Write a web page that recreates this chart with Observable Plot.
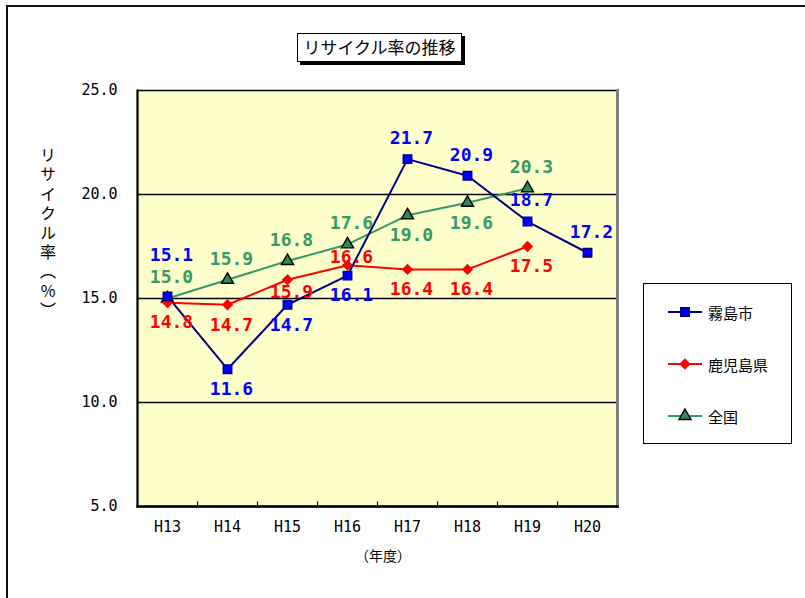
<!DOCTYPE html>
<html>
<head>
<meta charset="utf-8">
<script src="https://cdn.jsdelivr.net/npm/d3@7"></script>
<script src="https://cdn.jsdelivr.net/npm/@observablehq/plot@0.6"></script>
<style>
  body { margin: 0; background: #fff; }
  #wrap { position: relative; width: 805px; height: 598px; overflow: hidden; background: #fff;
          font-family: "Noto Sans CJK JP", sans-serif; color: #000; }
  #chart { position: absolute; left: 0; top: 0; }
  #outer { position: absolute; left: 6px; top: 5px; width: 900px; height: 700px;
           border: 2px solid #111; box-sizing: border-box; pointer-events: none; }
  #title { position: absolute; left: 297px; top: 33px; width: 165px; height: 29px;
           border: 1.5px solid #000; box-shadow: 3px 3px 0 #000; background: #fff;
           box-sizing: border-box; font-size: 17px; line-height: 26px; text-align: center; }
  #ylabel { position: absolute; left: 39px; top: 147px; font-size: 16px; letter-spacing: 3.4px;
            writing-mode: vertical-rl; text-orientation: upright; line-height: 18px; }
  #xlabel { position: absolute; left: 333px; width: 100px; top: 545px; font-size: 14px;
            text-align: center; }
  #legend { position: absolute; left: 643px; top: 283px; width: 149px; height: 161px;
            border: 1.5px solid #000; box-sizing: border-box; background: #fff; }
  .item { position: absolute; left: 24px; height: 20px; display: flex; align-items: center;
          font-size: 15px; }
  .item svg { margin-right: 6px; }
</style>
</head>
<body>
<div id="wrap">
  <div id="chart"></div>
  <div id="title">リサイクル率の推移</div>
  <div id="ylabel">リサイクル率（%）</div>
  <div id="xlabel">（年度）</div>
  <div id="legend"></div>
  <div id="outer"></div>
</div>
<script>
// ---- data ----
const years = ["H13", "H14", "H15", "H16", "H17", "H18", "H19", "H20"];
const seriesNames = ["霧島市", "鹿児島県", "全国"];
const kirishima = [15.1, 11.6, 14.7, 16.1, 21.7, 20.9, 18.7, 17.2];
const kagoshima = [14.8, 14.7, 15.9, 16.6, 16.4, 16.4, 17.5];
const zenkoku   = [15.0, 15.9, 16.8, 17.6, 19.0, 19.6, 20.3];
const yTicks = [5, 10, 15, 20, 25];
// label placement relative to the point
const kirishimaLabelPos = ["high", "below", "below", "below", "above", "above", "above", "above"];
const kagoshimaLabelPos = ["below", "below", "belowNear", "on", "below", "below", "below"];
const zenkokuLabelPos   = ["above", "above", "above", "above", "below", "below", "above"];

// ---- styles ----
const dyMap = { high: -41, above: -21, below: 20, belowNear: 12, on: -8 };
const styles = {
  "霧島市":   { line: "#000080", fill: "#0000ff", stroke: "#000080", symbol: "square",   r: 4.8, label: "#0000ff" },
  "鹿児島県": { line: "#ff0000", fill: "#ff0000", stroke: "#ff0000", symbol: "diamond2", r: 4.2, label: "#ff0000" },
  "全国":     { line: "#339966", fill: "#2e8b57", stroke: "#000000", symbol: "triangle", r: 4.5, label: "#339966" }
};

const toRows = (name, vals, pos) => vals.map((v, i) => ({ series: name, year: years[i], value: v, pos: pos[i] }));
const data = {
  "霧島市": toRows("霧島市", kirishima, kirishimaLabelPos),
  "鹿児島県": toRows("鹿児島県", kagoshima, kagoshimaLabelPos),
  "全国": toRows("全国", zenkoku, zenkokuLabelPos)
};

const labelFont = { fontFamily: "DejaVu Sans Mono", fontSize: 18, fontWeight: "bold" };
const axisFont = { fontFamily: "DejaVu Sans Mono", fontSize: 15 };

const marks = [
  Plot.frame({ fill: "#ffffcc" }),
  Plot.ruleY([10, 15, 20], { stroke: "#000", strokeWidth: 1.5 }),
  Plot.ruleX(years, { x: d => d, dx: 30, y1: 5, y2: 5.22, stroke: "#000", strokeWidth: 1.2 })
];
for (const name of ["全国", "鹿児島県", "霧島市"]) {
  const s = styles[name];
  marks.push(Plot.line(data[name], { x: "year", y: "value", stroke: s.line, strokeWidth: 2 }));
}
for (const name of ["全国", "鹿児島県", "霧島市"]) {
  const s = styles[name];
  marks.push(Plot.dot(data[name], { x: "year", y: "value", symbol: () => s.symbol, r: s.r,
    fill: s.fill, stroke: s.stroke, strokeWidth: 1.4 }));
}
for (const name of seriesNames) {
  const s = styles[name];
  for (const key of Object.keys(dyMap)) {
    const subset = data[name].filter(d => d.pos === key);
    if (!subset.length) continue;
    marks.push(Plot.text(subset, { x: "year", y: "value", text: d => d.value.toFixed(1),
      dx: 4, dy: dyMap[key], fill: s.label, ...labelFont }));
  }
}
marks.push(
  Plot.frame({ stroke: "#000", strokeWidth: 1.5 }),
  Plot.frame({ anchor: "right", stroke: "#808080", strokeWidth: 3 }),
  Plot.frame({ anchor: "left", stroke: "#000", strokeWidth: 2 }),
  Plot.frame({ anchor: "bottom", stroke: "#000", strokeWidth: 2.5 }),
  Plot.axisY({ ticks: yTicks, tickFormat: d => d.toFixed(1), tickSize: 0, tickPadding: 20,
    label: null, ...axisFont }),
  Plot.axisX({ tickSize: 0, tickPadding: 15, label: null, ...axisFont })
);

const chart = Plot.plot({
  width: 805,
  height: 598,
  marginLeft: 137,
  marginRight: 188,
  marginTop: 90,
  marginBottom: 92,
  x: { type: "point", domain: years, padding: 0.5 },
  y: { domain: [5, 25] },
  style: { background: "transparent", color: "#000" },
  marks
});
document.getElementById("chart").appendChild(chart);

// ---- legend ----
const legend = document.getElementById("legend");
const rowTops = [18, 70, 122];
seriesNames.forEach((name, i) => {
  const s = styles[name];
  const item = document.createElement("div");
  item.className = "item";
  item.style.top = rowTops[i] + "px";
  const svgNS = "http://www.w3.org/2000/svg";
  const svg = document.createElementNS(svgNS, "svg");
  svg.setAttribute("width", 34);
  svg.setAttribute("height", 20);
  const line = document.createElementNS(svgNS, "line");
  line.setAttribute("x1", 0); line.setAttribute("x2", 34);
  line.setAttribute("y1", 10); line.setAttribute("y2", 10);
  line.setAttribute("stroke", s.line); line.setAttribute("stroke-width", 2);
  svg.appendChild(line);
  const symMap = { square: d3.symbolSquare, diamond2: d3.symbolDiamond2, triangle: d3.symbolTriangle };
  const path = document.createElementNS(svgNS, "path");
  path.setAttribute("d", d3.symbol(symMap[s.symbol], Math.PI * s.r * s.r)());
  path.setAttribute("transform", "translate(17,10)");
  path.setAttribute("fill", s.fill);
  path.setAttribute("stroke", s.stroke);
  path.setAttribute("stroke-width", 1.4);
  svg.appendChild(path);
  item.appendChild(svg);
  const label = document.createElement("span");
  label.textContent = name;
  item.appendChild(label);
  legend.appendChild(item);
});
</script>
</body>
</html>
